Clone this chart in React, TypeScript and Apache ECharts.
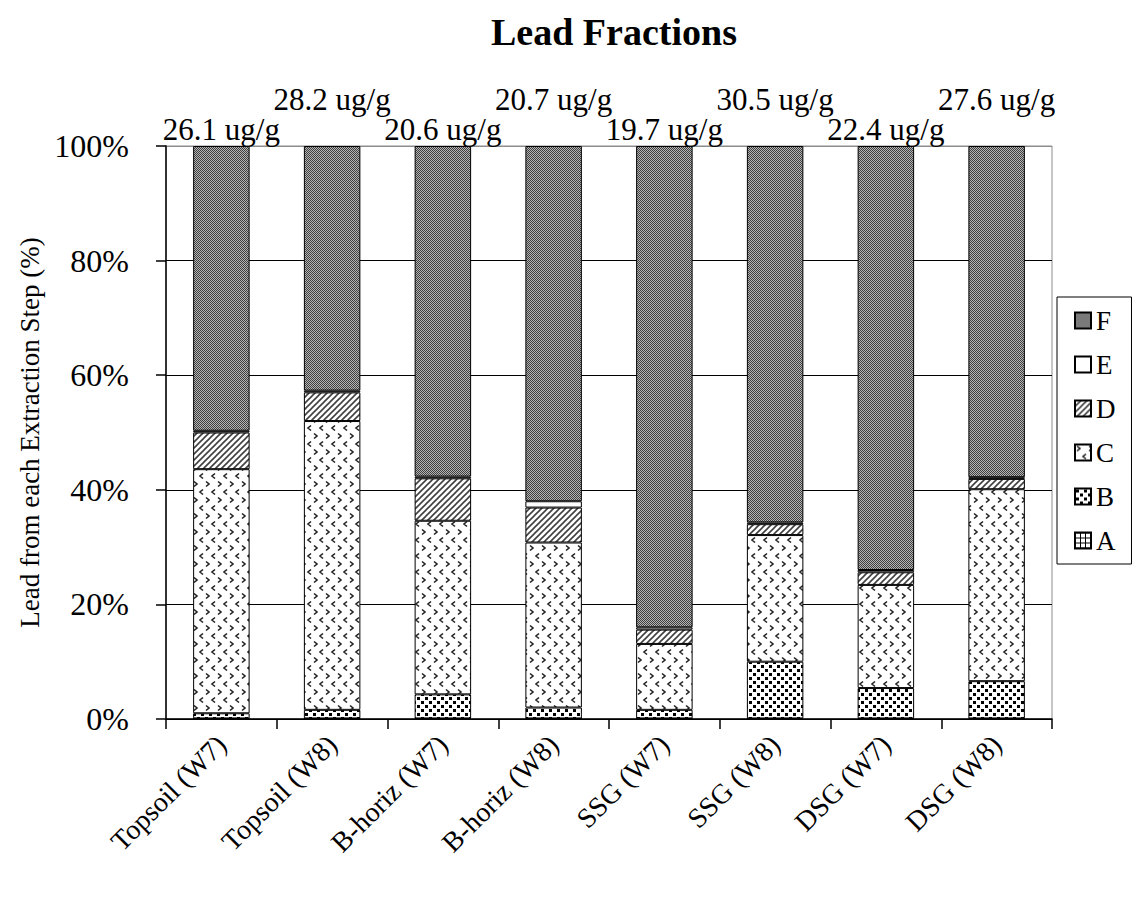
import React, { useEffect, useRef } from "react";
import * as echarts from "echarts";

const categories = [
  "Topsoil (W7)",
  "Topsoil (W8)",
  "B-horiz (W7)",
  "B-horiz (W8)",
  "SSG (W7)",
  "SSG (W8)",
  "DSG (W7)",
  "DSG (W8)",
];
const totals = [26.1, 28.2, 20.6, 20.7, 19.7, 30.5, 22.4, 27.6];
const fracA = [0.1, 0.1, 0.1, 0.1, 0.1, 0.1, 0.1, 0.1];
const fracB = [0.9, 1.5, 4.2, 1.9, 1.5, 9.9, 5.3, 6.5];
const fracC = [42.6, 50.4, 30.3, 28.8, 11.5, 22.1, 18.0, 33.5];
const fracD = [6.4, 5.0, 7.4, 6.1, 2.5, 1.9, 2.2, 1.8];
const fracE = [0.3, 0.3, 0.3, 1.1, 0.4, 0.3, 0.4, 0.3];
const fracF = [49.7, 42.7, 57.7, 62.0, 84.0, 65.7, 74.0, 57.8];
const yTicks = [0, 20, 40, 60, 80, 100];

const FONT = '"Liberation Serif", "Times New Roman", serif';

function pat(w: number, h: number, draw: (ctx: CanvasRenderingContext2D) => void) {
  const c = document.createElement("canvas");
  c.width = w;
  c.height = h;
  const ctx = c.getContext("2d") as CanvasRenderingContext2D;
  ctx.fillStyle = "#fff";
  ctx.fillRect(0, 0, w, h);
  draw(ctx);
  return { image: c, repeat: "repeat" as const };
}

function makePatterns() {
  const F = pat(2, 2, (ctx) => {
    ctx.fillStyle = "#b4b4b4";
    ctx.fillRect(0, 0, 2, 2);
    ctx.fillStyle = "#404040";
    ctx.fillRect(0, 0, 1, 1);
    ctx.fillRect(1, 1, 1, 1);
  });
  const E = pat(4, 4, () => {});
  const D = pat(6, 6, (ctx) => {
    ctx.strokeStyle = "#404040";
    ctx.lineWidth = 1.6;
    ctx.beginPath();
    ctx.moveTo(0, 6);
    ctx.lineTo(6, 0);
    ctx.moveTo(-1, 1);
    ctx.lineTo(1, -1);
    ctx.moveTo(5, 7);
    ctx.lineTo(7, 5);
    ctx.stroke();
  });
  const C = pat(24, 16, (ctx) => {
    ctx.strokeStyle = "#222";
    ctx.lineWidth = 1.6;
    const gt = (x: number, y: number) => {
      ctx.moveTo(x, y);
      ctx.lineTo(x + 3, y + 2.5);
      ctx.lineTo(x, y + 5);
    };
    const lt = (x: number, y: number) => {
      ctx.moveTo(x + 3, y);
      ctx.lineTo(x, y + 2.5);
      ctx.lineTo(x + 3, y + 5);
    };
    ctx.beginPath();
    gt(2, 1.5);
    gt(14, 1.5);
    lt(8, 9.5);
    lt(20, 9.5);
    ctx.stroke();
  });
  const B = pat(8, 8, (ctx) => {
    ctx.fillStyle = "#000";
    ctx.fillRect(1, 1, 3, 3);
    ctx.fillRect(5, 5, 3, 3);
  });
  const A = pat(5, 5, (ctx) => {
    ctx.fillStyle = "#000";
    ctx.fillRect(0, 0, 5, 1);
    ctx.fillRect(0, 0, 1, 5);
  });
  return { A, B, C, D, E, F };
}

export default function App() {
  const ref = useRef<HTMLDivElement>(null);

  useEffect(() => {
    document.body.style.margin = "0";
    if (!ref.current) return;
    const chart = echarts.init(ref.current, undefined, { renderer: "svg" });
    const P = makePatterns();

    const mk = (name: string, data: any[], color: any, extra: any = {}) => ({
      name,
      type: "bar",
      stack: "total",
      barWidth: "51%",
      data,
      itemStyle: { color, borderColor: "#000", borderWidth: 1 },
      emphasis: { disabled: true },
      ...extra,
    });

    const fData = fracF.map((v, i) => ({
      value: v,
      label: { distance: i % 2 === 0 ? 1 : 31 },
    }));

    chart.setOption({
      animation: false,
      backgroundColor: "#fff",
      textStyle: { fontFamily: FONT, color: "#000" },
      title: {
        text: "Lead Fractions",
        left: 486,
        top: 8,
        textStyle: { fontFamily: FONT, fontWeight: "bold", fontSize: 38, color: "#000" },
      },
      legend: {
        orient: "vertical",
        left: 1057,
        top: 297,
        data: ["F", "E", "D", "C", "B", "A"],
        icon: "rect",
        itemWidth: 16,
        itemHeight: 16,
        itemGap: 17,
        padding: [10, 16, 10, 17],
        borderColor: "#000",
        borderWidth: 1,
        borderRadius: 0,
        textStyle: { fontFamily: FONT, fontSize: 27, color: "#000" },
      },
      grid: {
        left: 166,
        right: 82,
        top: 146,
        bottom: 188,
        show: true,
        borderColor: "#8c8c8c",
        borderWidth: 1,
        backgroundColor: "transparent",
      },
      xAxis: {
        type: "category",
        data: categories,
        axisLine: { lineStyle: { color: "#000", width: 1.5 } },
        axisTick: { show: true, length: 10, lineStyle: { color: "#000", width: 1.5 } },
        axisLabel: {
          interval: 0,
          rotate: 45,
          margin: 21,
          fontSize: 28,
          fontFamily: FONT,
          color: "#000",
        },
      },
      yAxis: {
        type: "value",
        min: yTicks[0],
        max: yTicks[yTicks.length - 1],
        interval: 20,
        name: "Lead from each Extraction Step (%)",
        nameLocation: "middle",
        nameGap: 116,
        nameTextStyle: { fontFamily: FONT, fontSize: 27, color: "#000" },
        axisLine: { show: true, lineStyle: { color: "#000", width: 1.5 } },
        axisTick: { show: true, length: 10, lineStyle: { color: "#000", width: 1.5 } },
        axisLabel: {
          formatter: "{value}%",
          margin: 37,
          fontSize: 32,
          fontFamily: FONT,
          color: "#000",
        },
        splitLine: {
          show: true,
          lineStyle: {
            color: ["#000", "#000", "#000", "#000", "#000", "#8c8c8c"],
            width: 1,
          },
        },
      },
      series: [
        mk("A", fracA, P.A),
        mk("B", fracB, P.B),
        mk("C", fracC, P.C),
        mk("D", fracD, P.D),
        mk("E", fracE, "#fff"),
        mk("F", fData, P.F, {
          label: {
            show: true,
            position: "top",
            fontFamily: FONT,
            fontSize: 31,
            color: "#000",
            formatter: (p: any) => totals[p.dataIndex].toFixed(1) + " ug/g",
          },
        }),
      ],
    });

    return () => {
      chart.dispose();
    };
  }, []);

  return <div ref={ref} style={{ width: 1134, height: 907 }} />;
}
